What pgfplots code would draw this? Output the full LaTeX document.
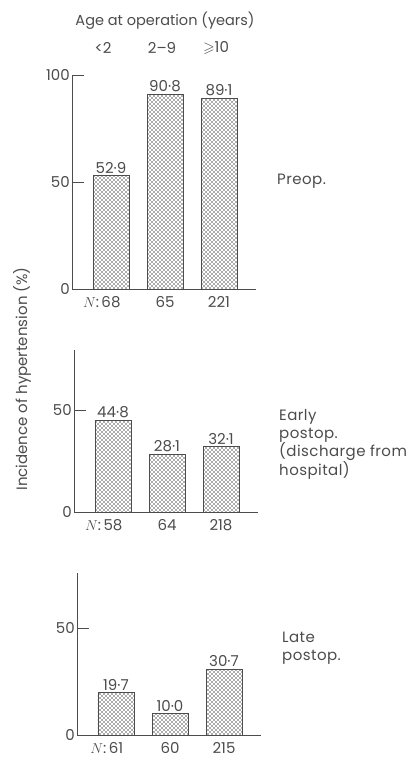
\documentclass[border=0pt]{standalone}
\usepackage{amssymb}
\usepackage{fontspec}
\setmainfont{Poppins}
\usepackage{pgfplots}
\pgfplotsset{compat=1.18}
\usetikzlibrary{patterns}

\definecolor{ink}{gray}{0.3}

% coarse dot screen like the printed bars
\pgfdeclarepatternformonly{screen}{\pgfqpoint{-1pt}{-1pt}}{\pgfqpoint{5pt}{5pt}}{\pgfqpoint{4pt}{4pt}}{
  \pgfpathcircle{\pgfqpoint{0pt}{0pt}}{0.9pt}
  \pgfpathcircle{\pgfqpoint{2pt}{2pt}}{0.9pt}
  \pgfusepath{fill}
}

\pgfplotsset{
  panel/.style={
    scale only axis,
    anchor=south west,
    width=184pt,
    xmin=-0.722, xmax=2.685,
    ymin=0,
    axis lines=left,
    axis line style={-, draw=ink, line width=0.8pt},
    tick align=inside,
    major tick length=12pt,
    ytick style={draw=ink, line width=0.8pt},
    xtick={0,1,2},
    xtick style={draw=none},
    /pgf/number format/assume math mode=true,
    ticklabel style={font=\fontsize{15}{18}\selectfont, text=ink},
    yticklabel style={inner sep=2pt},
    xticklabel style={inner sep=0pt, yshift=5pt},
    ybar,
    bar width=36pt,
    bar shift=0pt,
    point meta=explicit symbolic,
    nodes near coords,
    nodes near coords style={font=\fontsize{15}{18}\selectfont, text=ink, anchor=south, inner sep=2pt},
    clip=false,
  },
  hatched/.style={draw=ink, line width=0.8pt, pattern=screen, pattern color=black!65},
}

\begin{document}
\begin{tikzpicture}[x=1pt, y=1pt, every node/.style={text=ink}]
\useasboundingbox (0,0) rectangle (408,-762);
\fontsize{15}{18}\selectfont

% top panel: preoperative
\begin{axis}[panel, at={(72pt,-289pt)}, height=214pt, ymax=100,
  ytick={0,50,100},
  xticklabels={\llap{$N$:\,}68, 65, 221}]
\addplot[hatched] coordinates {(0,52.9) [52·9] (1,90.8) [90·8] (2,89.1) [89·1]};
\end{axis}

% middle panel: early postoperative
\begin{axis}[panel, at={(74pt,-512pt)}, height=162pt, ymax=79.4,
  ytick={0,50},
  xticklabels={\llap{$N$:\,}58, 64, 218}]
\addplot[hatched] coordinates {(0,44.8) [44·8] (1,28.1) [28·1] (2,32.1) [32·1]};
\end{axis}

% bottom panel: late postoperative
\begin{axis}[panel, at={(77pt,-735pt)}, height=162pt, ymax=75.7,
  ytick={0,50},
  xticklabels={\llap{$N$:\,}61, 60, 215}]
\addplot[hatched] coordinates {(0,19.7) [19·7] (1,10.0) [10·0] (2,30.7) [30·7]};
\end{axis}

% headings and side labels
\node[font=\fontsize{14.5}{17}\selectfont] at (165,-21) {Age at operation (years)};
\node at (103,-48) {<2};
\node at (162,-48) {2–9};
\node at (216,-48) {$\geqslant$10};

\begin{scope}[every node/.append style={font=\addfontfeatures{LetterSpace=3}}]
\node[anchor=west] at (272,-181) {Preop.};
\node[anchor=west, align=left] at (274,-444) {Early\\postop.\\(discharge from\\hospital)};
\node[anchor=west, align=left] at (277,-648) {Late\\postop.};
\end{scope}

\node[rotate=90] at (22,-379) {Incidence of hypertension (\%)};
\end{tikzpicture}
\end{document}
